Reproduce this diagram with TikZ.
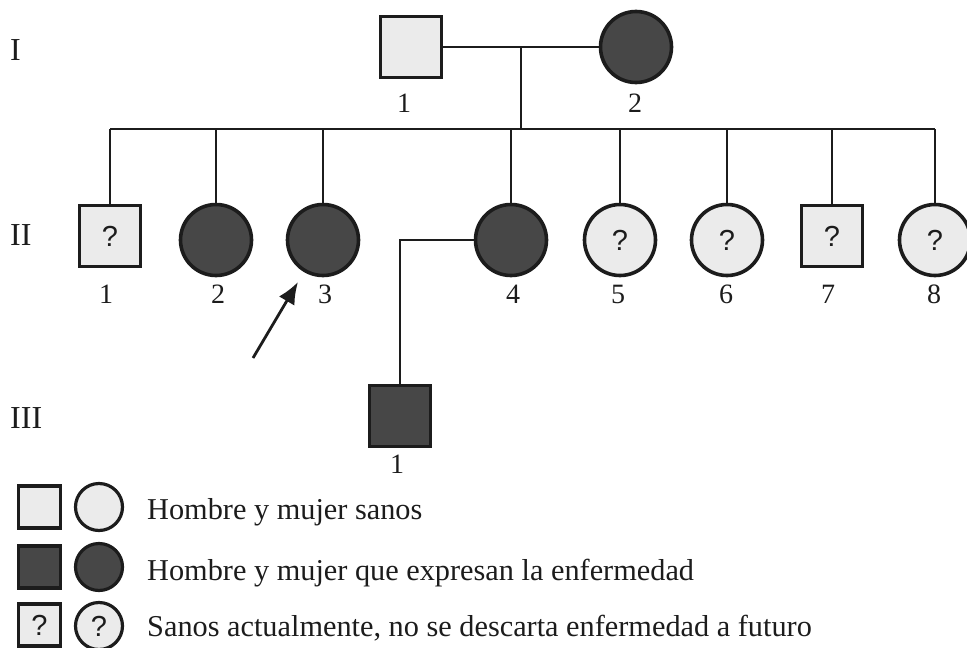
\documentclass[tikz,border=0pt]{standalone}
\usepackage{fontspec}
\setmainfont{Liberation Serif}
\setsansfont{Liberation Sans}
\usetikzlibrary{arrows.meta}

\definecolor{claro}{HTML}{EBEBEB}
\definecolor{oscuro}{HTML}{474747}
\definecolor{tinta}{HTML}{1C1C1C}

\tikzset{
  hombre/.style={rectangle, draw=tinta, line width=3.6pt, minimum size=61pt, inner sep=0pt},
  mujer/.style={circle, draw=tinta, line width=3.6pt, minimum size=71pt, inner sep=0pt},
  leyhombre/.style={hombre, minimum size=42pt, line width=3.2pt},
  leymujer/.style={mujer, minimum size=47pt, line width=3.2pt},
  sano/.style={fill=claro},
  enfermo/.style={fill=oscuro},
  duda/.style={fill=claro, text=tinta, font=\sffamily\fontsize{29}{29}\selectfont},
  linea/.style={draw=tinta, line width=2.8pt},
  num/.style={anchor=base, inner sep=0pt, text=tinta, font=\fontsize{28}{28}\selectfont},
  gen/.style={anchor=base west, inner sep=0pt, text=tinta, font=\fontsize{32}{32}\selectfont},
  leyenda/.style={anchor=base west, inner sep=0pt, text=tinta, font=\fontsize{30.3}{30}\selectfont}
}

\begin{document}
\begin{tikzpicture}[x=1pt, y=-1pt]
    \useasboundingbox (0,0) rectangle (967,648);

    % generaciones
    \node [gen] (g1) at (10,60) {I};
    \node [gen] (g2) at (10,245) {II};
    \node [gen] (g3) at (10,428) {III};

    % generacion I
    \node [hombre, sano] (I-1) at (411,47) {};
    \node [mujer, enfermo] (I-2) at (636,47) {};
    \node [num] (nI-1) at (404,112) {1};
    \node [num] (nI-2) at (635,112) {2};

    \coordinate (pareja) at (521,47);
    \coordinate (hermanos) at (521,129);
    \draw [linea] (I-1.east) -- (I-2.west);
    \draw [linea] (pareja) -- (hermanos);

    % generacion II
    \node [hombre, duda] (II-1) at (110,236) {?};
    \node [mujer, enfermo] (II-2) at (216,240) {};
    \node [mujer, enfermo] (II-3) at (323,240) {};
    \node [mujer, enfermo] (II-4) at (511,240) {};
    \node [mujer, duda] (II-5) at (620,240) {?};
    \node [mujer, duda] (II-6) at (727,240) {?};
    \node [hombre, duda] (II-7) at (832,236) {?};
    \node [mujer, duda] (II-8) at (935,240) {?};

    \foreach \n/\x in {1/106, 2/218, 3/325, 4/513, 5/618, 6/726, 7/828, 8/934}
        \node [num] (nII-\n) at (\x,303) {\n};

    \draw [linea] (II-1.north |- hermanos) -- (II-8.north |- hermanos);
    \foreach \n in {1,...,8}
        \draw [linea] (II-\n.north |- hermanos) -- (II-\n.north);

    % probando
    \coordinate (cola) at (253,358);
    \coordinate (punta) at (298,282);
    \draw [linea, -{Latex[length=22pt, width=18pt]}] (cola) -- (punta);

    % generacion III
    \node [hombre, enfermo] (III-1) at (400,416) {};
    \node [num] (nIII-1) at (397,473) {1};
    \coordinate (esquina) at (III-1.north |- II-4.west);
    \draw [linea] (II-4.west) -- (esquina) -- (III-1.north);

    % leyenda
    \node [leyhombre, sano] (lh1) at (39.5,507) {};
    \node [leymujer, sano] (lm1) at (99,507) {};
    \node [leyenda] (t1) at (147,519) {Hombre y mujer sanos};

    \node [leyhombre, enfermo] (lh2) at (39.5,567) {};
    \node [leymujer, enfermo] (lm2) at (99,567) {};
    \node [leyenda] (t2) at (147,580) {Hombre y mujer que expresan la enfermedad};

    \node [leyhombre, duda] (lh3) at (39.5,625) {?};
    \node [leymujer, duda] (lm3) at (99,626) {?};
    \node [leyenda] (t3) at (147,636) {Sanos actualmente, no se descarta enfermedad a futuro};
\end{tikzpicture}
\end{document}
